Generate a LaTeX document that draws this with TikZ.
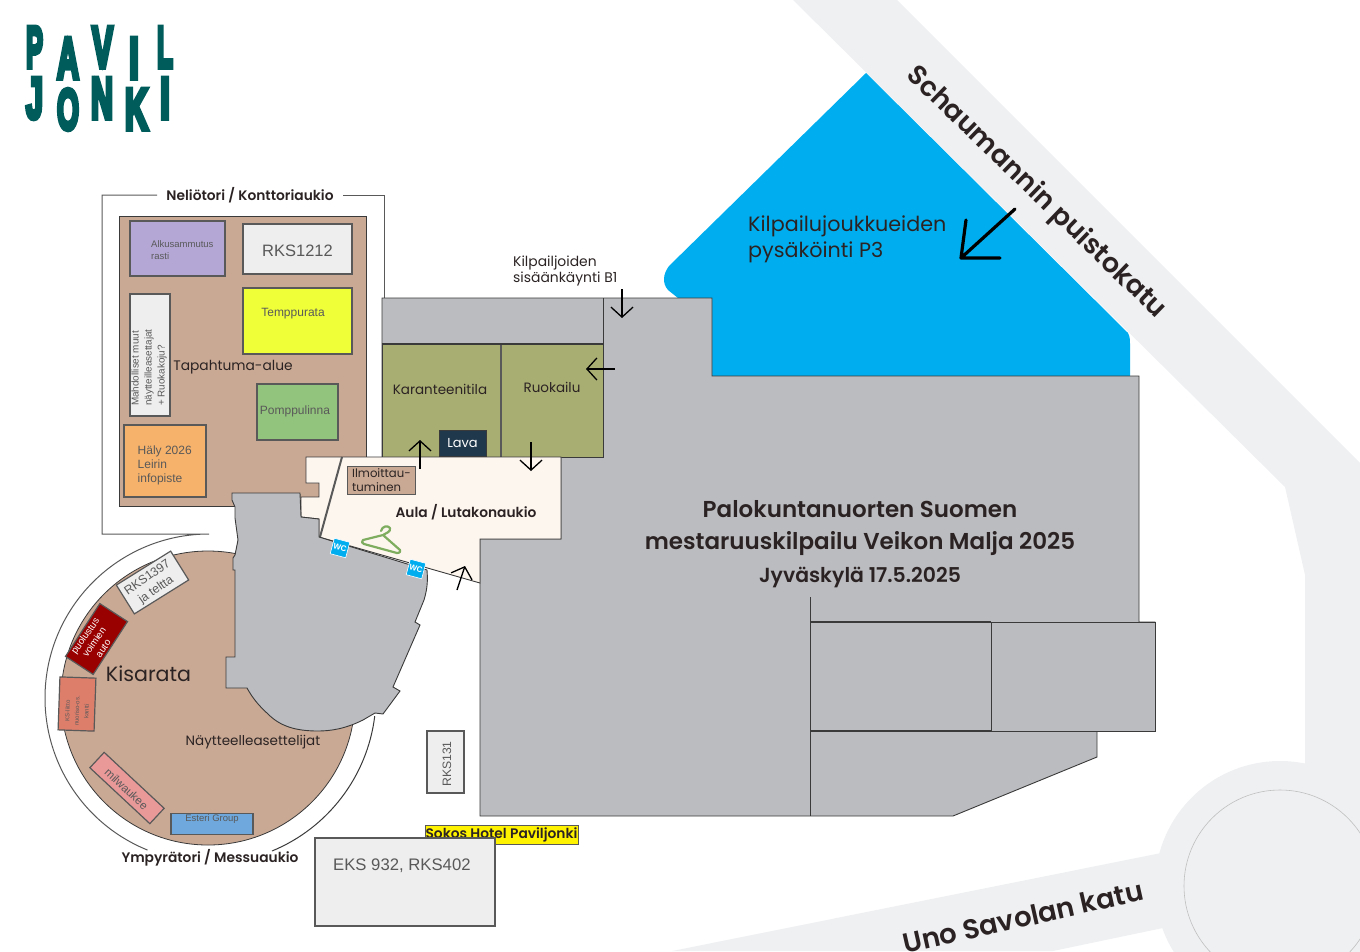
\documentclass[tikz,border=0pt]{standalone}
\usepackage{fontspec}
\usetikzlibrary{arrows.meta}
\setmainfont{Poppins}
\newfontfamily\semib{Poppins SemiBold}
\newfontfamily\arial{Liberation Sans}
\newfontfamily\logofont[FakeBold=9]{Liberation Sans Bold}
\definecolor{road}{HTML}{EFF0F2}
\definecolor{bldg}{HTML}{BBBCC0}
\definecolor{edge}{HTML}{3A3A3A}
\definecolor{tan}{HTML}{C9A994}
\definecolor{olive}{HTML}{A8AD72}
\definecolor{aula}{HTML}{FDF6EF}
\definecolor{park}{HTML}{00AEEF}
\definecolor{ink}{HTML}{2B2323}
\definecolor{boxedge}{HTML}{595959}
\definecolor{logo}{HTML}{005B5B}
\definecolor{hanger}{HTML}{7EAD5F}
\definecolor{lavac}{HTML}{20384B}
\definecolor{c1}{HTML}{B4A7D6}
\definecolor{c2}{HTML}{EEEEEE}
\definecolor{c3}{HTML}{EFFF38}
\definecolor{c4}{HTML}{93C47D}
\definecolor{c5}{HTML}{F6B26B}
\definecolor{c6}{HTML}{990000}
\definecolor{c7}{HTML}{DD7E6B}
\definecolor{c8}{HTML}{EA9999}
\definecolor{c9}{HTML}{6FA8DC}
\newcommand{\fs}[1]{\fontsize{#1}{#1}\selectfont}
\newcommand{\fsl}[2]{\fontsize{#1}{#2}\selectfont}
\newcommand{\logoL}[5]{\node[logotxt] (logo#5) at (#1,#2) {\resizebox{#3pt}{#4pt}{\logofont #5}};}
\tikzset{
  bld/.style={draw=edge,fill=bldg,line width=0.9pt,line join=miter},
  stall/.style={draw=boxedge,line width=1.6pt},
  lbl/.style={text=ink,inner sep=0pt,align=center},
  lblleft/.style={text=ink,inner sep=0pt,align=left,anchor=west},
  stalltxt/.style={text=boxedge,inner sep=0pt,font=\arial},
  logotxt/.style={text=logo,inner sep=0pt,anchor=north},
  arr/.style={draw=black,line width=1.3pt,-{Straight Barb[length=10pt,width=22pt,line width=1.3pt]}},
  wc/.style={fill=park,draw=white,line width=0.6pt,minimum size=16pt,inner sep=0pt,text=white,font=\arial\bfseries\fs{8}},
}
\begin{document}
\begin{tikzpicture}[x=1pt,y=-1pt]
\useasboundingbox (0,0) rectangle (1360,951);
% roads
\fill[road] (793,0) -- (897,0) -- (1360,463) -- (1360,951) -- (1200,951) -- (1305,770) -- (1305,575) -- (1285,487) -- cycle;
\fill[road] (672,951) -- (1161,853) -- (1163,928) -- (1053,951) -- cycle;
\fill[road] (1280,886) circle[radius=125];
\draw[draw=black!25,line width=0.6pt] (1280,886) circle[radius=96];
% parking
\fill[park] (866,73) -- (1128,333) .. controls (1130,337) and (1130,340) .. (1130,345) -- (1130,380) -- (690,380) -- (690,300) -- (678,298) -- (668,290) .. controls (662,283) and (663,274) .. (669,266) -- cycle;
% tan areas
\draw[draw=edge,fill=tan,line width=0.9pt] (119,216) rectangle (366,506);
\fill[tan] (208,698) circle[radius=147];
\draw[draw=edge,line width=0.8pt] (208,698) circle[radius=147];
% outer frame
\draw[draw=boxedge,line width=1pt] (157,195) -- (102,195) -- (102,534) -- (209,534) arc[start angle=270,end angle=112,radius=164];
\draw[draw=boxedge,line width=1pt] (343,195) -- (384,195) -- (384,298);
\draw[draw=edge,line width=1pt] (272,851) arc[start angle=67.6,end angle=7,radius=168];
% main building
\draw[bld] (382,298) -- (712,298) -- (712,376) -- (1139,376) -- (1139,622) -- (1155,622) -- (1155,731) -- (1097,731) -- (1097,757) -- (953,816) -- (480,816) -- (480,539) -- (561,539) -- (561,457) -- (382,457) -- cycle;
\draw[bld] (810,622) rectangle (991,731);
\draw[bld] (991,622) rectangle (1155,731);
\draw[bld] (810,597) -- (810,816);
\draw[bld] (810,622) -- (1139,622);
\draw[bld,line width=1.4pt] (810,622) -- (991,622) (810,731) -- (991,731);
\draw[bld] (603,298) -- (603,344);
% rooms
\draw[draw=edge,fill=olive,line width=1pt] (382,344) rectangle (603,457);
\draw[draw=boxedge,line width=2pt] (501,344) -- (501,457);
\draw[draw=edge,line width=1.2pt] (382,344) -- (603,344);
\node[fill=lavac,inner sep=0pt,minimum width=47pt,minimum height=26pt,draw=edge,line width=0.6pt,text=white,font=\fs{13}] (lava) at (462.5,443.5) {Lava};
% aula
\draw[draw=edge,fill=aula,line width=0.9pt] (306,457) -- (561,457) -- (561,539) -- (480,539) -- (480,583) -- (319,537) -- (319,519) -- (301,517) -- (301,497) -- (319,497) -- (319,483) -- (306,483) -- cycle;
\draw[draw=boxedge,line width=2pt] (342,457) -- (320,537);
% left building
\draw[bld] (232,493) -- (300,493) -- (301,517) -- (319,519) -- (319,537) -- (427,570) .. controls (428,582) and (427,590) .. (424,600) -- (415,622) -- (420,625) -- (393,687) -- (400,691) -- (383,714) -- (375,713) -- (363,720) .. controls (345,729) and (330,731) .. (318,731) .. controls (295,731) and (280,726) .. (268,714) .. controls (258,705) and (252,697) .. (247,688) -- (226,688) -- (226,657) -- (235,657) -- (235,570) -- (233,570) -- (233,558) -- (235,555) -- (238,540) -- (235,518) -- (235,507) -- (232,500) -- cycle;
% parking text
\node[lblleft,font=\fs{20.7}] (p3a) at (748,226) {Kilpailujoukkueiden};
\node[lblleft,font=\fs{20.7}] (p3b) at (748,252) {pysäköinti P3};
\coordinate (bigA) at (1015,209);
\coordinate (bigT) at (961,258);
\coordinate (bigB) at (966,220);
\coordinate (bigC) at (1000,258);
\draw[line width=3.2pt,line cap=round,line join=round] (bigA) -- (bigT) (bigB) -- (bigT) -- (bigC);
% stalls
\node[stall,fill=c1,minimum width=95pt,minimum height=55pt,inner sep=0pt] (alku) at (177.5,248.5) {};
\node[stalltxt,anchor=west,align=left,font=\arial\fsl{9.5}{12}] (alkut) at (151,250.5) {Alkusammutus\\rasti};
\node[stall,fill=c2,minimum width=109pt,minimum height=50pt,inner sep=0pt] (rks1212) at (297.5,249) {};
\node[stalltxt,font=\arial\fs{16.5}] (rks1212t) at (297.5,251) {RKS1212};
\node[stall,fill=c3,minimum width=109pt,minimum height=66pt,inner sep=0pt] (temp) at (297.5,321) {};
\node[stalltxt,font=\arial\fs{12}] (tempt) at (293,314) {Temppurata};
\node[stall,fill=c2,minimum width=40pt,minimum height=122pt,inner sep=0pt,line width=1.2pt] (mahd) at (150,355) {};
\node[stalltxt,rotate=90,align=left,anchor=west,font=\arial\fsl{9.9}{13}] (mahdt) at (149,406) {Mahdolliset muut\\näytteilleasettajat\\+ Ruokakoju?};
\node[lbl,font=\fs{13.8}] (tap) at (233,367) {Tapahtuma-alue};
\node[stall,fill=c4,minimum width=81pt,minimum height=56pt,inner sep=0pt] (pomp) at (297.5,412) {};
\node[stalltxt,font=\arial\fs{12}] (pompt) at (295,411) {Pomppulinna};
\node[stall,fill=c5,minimum width=82pt,minimum height=72pt,inner sep=0pt] (haly) at (165,461) {};
\node[stalltxt,anchor=west,align=left,font=\arial\fsl{12}{14}] (halyt) at (137.5,465) {Häly 2026\\Leirin\\infopiste};
\node[draw=boxedge,line width=0.9pt,fill=tan,minimum width=68pt,minimum height=28pt,inner sep=0pt] (ilmo) at (381,480) {};
\node[lblleft,font=\fsl{11.7}{14}] (ilmot) at (352,480.5) {Ilmoittau-\\tuminen};
\node[lbl,font=\semib\fs{13.8}] (aulat) at (466,512) {Aula / Lutakonaukio};
\node[lbl,font=\fs{13.5}] (kar) at (440,389) {Karanteenitila};
\node[lbl,font=\fs{13.5}] (ruo) at (552,387) {Ruokailu};
\node[lblleft,font=\fsl{13.9}{16}] (kil) at (513,270.5) {Kilpailjoiden\\sisäänkäynti B1};
% circle stalls
\node[stall,fill=c2,minimum width=64pt,minimum height=34pt,inner sep=0pt,rotate=32,line width=1.2pt] (rks1397box) at (152.5,582.5) {};
\node[stalltxt,rotate=35,align=center,font=\arial\fsl{12.3}{15}] (rks1397) at (152,584) {RKS1397\\ja teltta};
\node[stall,fill=c6,minimum width=63pt,minimum height=33pt,inner sep=0pt,rotate=57,line width=1.2pt] (red) at (96.5,639) {};
\node[rotate=55,align=center,text=white,inner sep=0pt,font=\arial\fsl{9.7}{11}] (redt) at (94,642) {puolustus\\voimien\\auto};
\node[stall,fill=c7,minimum width=36pt,minimum height=53pt,inner sep=0pt,rotate=-2,line width=1.2pt] (ks) at (77,704) {};
\node[rotate=88,align=center,text=boxedge,inner sep=0pt,font=\arial\fsl{6}{9.5}] (kst) at (77,711) {KS-liitto\\nuoriso-os.\\kantti};
\node[stall,fill=c8,minimum width=82pt,minimum height=21pt,inner sep=0pt,rotate=-43,line width=1.2pt] (mil) at (127,788) {};
\node[stalltxt,rotate=-43,font=\arial\fs{11.5}] (milt) at (126.5,789) {milwaukee};
\node[stall,fill=c9,minimum width=82pt,minimum height=21pt,inner sep=0pt,line width=1.2pt] (est) at (212,824) {};
\node[stalltxt,font=\arial\fs{9.5}] (estt) at (212,819) {Esteri Group};
\node[lbl,font=\fs{20.6}] (kis) at (148.5,674) {Kisarata};
\node[lbl,font=\fs{13.5}] (nay) at (253,742) {Näytteelleasettelijat};
\node[lbl,font=\semib\fs{13.8}] (ymp) at (210,858) {Ympyrätori / Messuaukio};
\node[lbl,font=\semib\fs{13.8}] (nel) at (250,195.5) {Neliötori / Konttoriaukio};
% WC
\node[wc,rotate=-15] (wc1) at (340,548) {WC};
\node[wc,rotate=-15] (wc2) at (416,569) {WC};
% hanger
\draw[hanger,line width=2.2pt,line join=round,line cap=round] (381,531) .. controls (382,526) and (388,525) .. (390,528) .. controls (391,532) and (386,533) .. (383,535) -- (363,540) .. controls (361,542) and (362,543) .. (364,544) -- (397,553) .. controls (400,553) and (401,551) .. (400,550) -- (383,535);
% lower boxes
\node[draw=boxedge,line width=1pt,fill=yellow,inner sep=0pt,minimum width=153pt,minimum height=19pt,text=ink,font=\semib\fs{13.8}] (sokos) at (501.5,834.5) {Sokos Hotel Paviljonki};
\node[stall,fill=c2,minimum width=180pt,minimum height=88pt,inner sep=0pt] (eks) at (405,882) {};
\node[stalltxt,anchor=west,font=\arial\fs{16.7}] (ekst) at (333,865.5) {EKS 932, RKS402};
\node[stall,fill=c2,minimum width=37pt,minimum height=62pt,inner sep=0pt] (r131) at (445.5,762) {};
\node[stalltxt,rotate=90,font=\arial\fs{12.2}] (r131t) at (447,764) {RKS131};
% title
\node[lbl,font=\semib\fs{23}] (t1) at (860,509) {Palokuntanuorten Suomen};
\node[lbl,font=\semib\fs{23}] (t2) at (860,544) {mestaruuskilpailu Veikon Malja 2025};
\node[lbl,font=\semib\fs{20.4}] (t3) at (860,577) {Jyväskylä 17.5.2025};
\node[lbl,rotate=-44,font=\semib\fs{27}] (sch) at (1036,193) {Schaumannin puistokatu};
\node[lbl,rotate=12.7,font=\semib\fs{27.5}] (uno) at (1023,917) {Uno Savolan katu};
% arrows
\coordinate (a1s) at (622,289); \coordinate (a1e) at (622,318);
\coordinate (a2s) at (615,369); \coordinate (a2e) at (586,369);
\coordinate (a3s) at (531,442); \coordinate (a3e) at (531,471);
\coordinate (a4s) at (420,469); \coordinate (a4e) at (420,440);
\coordinate (a5s) at (457,590); \coordinate (a5e) at (465,566);
\draw[arr] (a1s) -- (a1e);
\draw[arr] (a2s) -- (a2e);
\draw[arr] (a3s) -- (a3e);
\draw[arr] (a4s) -- (a4e);
\draw[arr] (a5s) -- (a5e);
% logo
\logoL{34.5}{27}{17}{40}{P}
\logoL{68}{38}{22}{40}{A}
\logoL{102.5}{27}{21}{40}{V}
\logoL{134}{38}{10}{40}{I}
\logoL{165}{27}{16}{40}{L}
\logoL{34.5}{78}{17}{40}{J}
\logoL{68}{89}{22}{40}{O}
\logoL{102}{78}{22}{40}{N}
\logoL{136.5}{89}{23}{40}{K}
\node[logotxt] (logoI2) at (165,78) {\resizebox{10pt}{40pt}{\logofont I}};
\end{tikzpicture}
\end{document}
